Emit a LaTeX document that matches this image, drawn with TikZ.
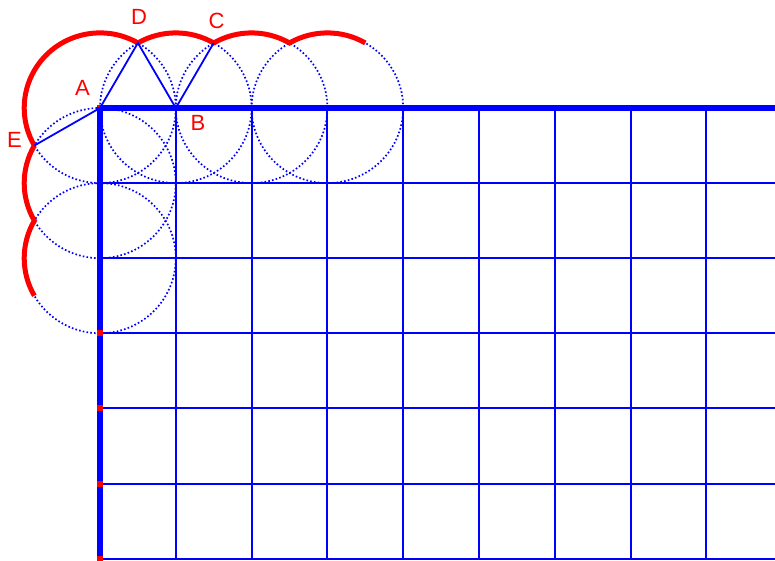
\documentclass[tikz,border=0pt]{standalone}
\usepackage{fontspec}
\setmainfont{Liberation Sans}
\usetikzlibrary{calc}
\begin{document}
\begin{tikzpicture}[x=75.8pt,y=75.1pt,
  gridline/.style={blue,line width=2pt},
  thickline/.style={blue,line width=5.5pt},
  dotcircle/.style={blue,line width=1.7pt,dash pattern=on 1.6pt off 2.2pt},
  redarc/.style={red,line width=5pt},
  conn/.style={blue,line width=1.8pt},
  lbl/.style={text=red,font=\fontsize{22}{24}\selectfont,inner sep=0pt}]
\useasboundingbox (-100pt,-453pt) rectangle (675pt,108pt);
\coordinate (A) at (0,0);
\coordinate (B) at (1,0);
\coordinate (D) at (60:1);
\coordinate (C) at ($(B)+(60:1)$);
\coordinate (E) at (210:1);
% grid
\foreach \i in {1,...,8} \draw[gridline] (\i,0) -- (\i,-6);
\foreach \j in {1,...,6} \draw[gridline] (0,-\j) -- ++(675pt,0);
% dotted circles
\foreach \c in {(0,0),(1,0),(2,0),(3,0),(0,-1),(0,-2)}
  \draw[dotcircle] \c circle[radius=1];
% thick axes
\draw[thickline] (675pt,0) -- (A) -- (0pt,-453pt);
% red arcs
\draw[redarc] (D) arc[start angle=60,end angle=210,radius=1];
\draw[redarc] (E) arc[start angle=150,end angle=210,radius=1]
                  arc[start angle=150,end angle=210,radius=1];
\draw[redarc] (D) arc[start angle=120,end angle=60,radius=1]
                  arc[start angle=120,end angle=60,radius=1]
                  arc[start angle=120,end angle=60,radius=1];
% connectors
\draw[conn] (A) -- (D) -- (B) -- (C);
\draw[conn] (A) -- (E);
% red marks on left axis
\foreach \j in {3,...,6} \fill[red] (0,-\j) ++(-3pt,-3pt) rectangle ++(6pt,6pt);
\fill[red] (A) ++(-3pt,0.5pt) rectangle ++(2.5pt,2.5pt);
% labels
\node[lbl] (labA) at ($(A)+(-17.5pt,20.5pt)$) {A};
\node[lbl] (labB) at ($(A)+(98pt,-14.5pt)$) {B};
\node[lbl] (labC) at ($(A)+(116.5pt,87.5pt)$) {C};
\node[lbl] (labD) at ($(A)+(39pt,91.3pt)$) {D};
\node[lbl] (labE) at ($(A)+(-85.5pt,-32pt)$) {E};
\end{tikzpicture}
\end{document}
